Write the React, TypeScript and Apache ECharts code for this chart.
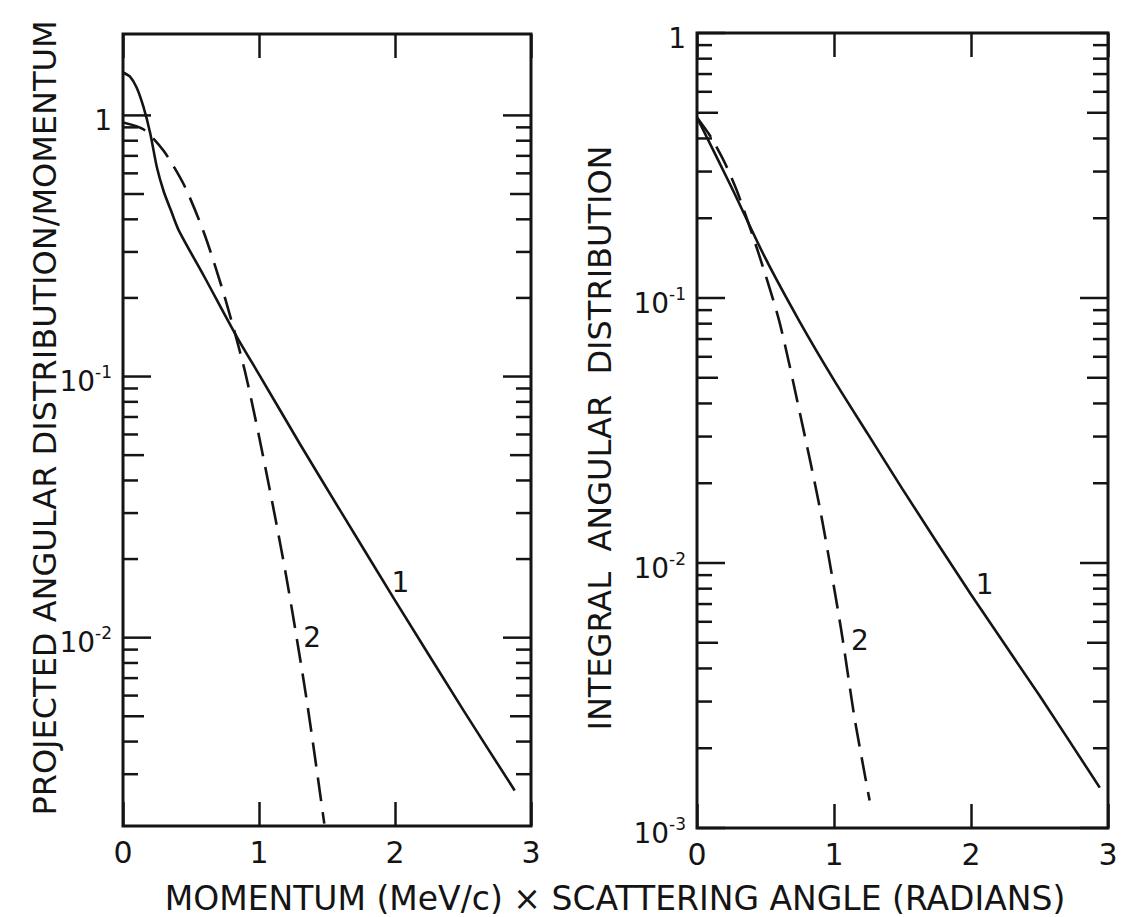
import React, { useEffect, useRef } from "react";
import * as echarts from "echarts";

// ---------- data ----------
const xTickValues = [0, 1, 2, 3];

// Left panel: projected angular distribution / momentum
const leftSolidX = [0, 0.05, 0.1, 0.15, 0.2, 0.25, 0.3, 0.35, 0.41, 0.6, 0.84, 1.0, 1.3, 1.6, 2.0, 2.5, 2.88];
const leftSolidY = [1.46, 1.41, 1.28, 1.08, 0.855, 0.63, 0.51, 0.436, 0.363, 0.24, 0.141, 0.102, 0.0553, 0.0305, 0.0139, 0.0053, 0.0026];
const leftDashX = [0, 0.15, 0.3, 0.45, 0.6, 0.75, 0.9, 1.05, 1.2, 1.35, 1.48];
const leftDashY = [0.94, 0.885, 0.73, 0.54, 0.35, 0.2, 0.103, 0.044, 0.0172, 0.0058, 0.00194];

// Right panel: integral angular distribution
const rightSolidX = [0, 0.25, 0.5, 0.75, 1.0, 1.25, 1.5, 2.0, 2.5, 2.94];
const rightSolidY = [0.48, 0.263, 0.141, 0.0813, 0.049, 0.0305, 0.019, 0.0076, 0.00316, 0.00142];
const rightDashX = [0, 0.1, 0.2, 0.3, 0.45, 0.6, 0.75, 0.9, 1.05, 1.15, 1.26];
const rightDashY = [0.48, 0.406, 0.326, 0.247, 0.147, 0.082, 0.037, 0.0158, 0.0057, 0.0026, 0.00127];

// axis ranges
const leftYRange = [0.0019, 2.05];
const rightYRange = [0.001, 1];

// log ticks
const leftDecades = [0.001, 0.01, 0.1, 1];
const rightDecades = [0.001, 0.01, 0.1, 1];
const minorMultipliers = [2, 3, 4, 5, 6, 7, 8, 9];
const leftMajorTicks = [1, 0.1, 0.01];
const rightMajorTicks = [1, 0.1, 0.01, 0.001];
const leftMajorLabels = ["1", "10|-1", "10|-2"];
const rightMajorLabels = ["1", "10|-1", "10|-2", "10|-3"];

// curve labels [x, y, text]
const leftCurveLabels: [number, number, string][] = [
  [2.04, 0.0163, "1"],
  [1.39, 0.0100, "2"],
];
const rightCurveLabels: [number, number, string][] = [
  [2.1, 0.0083, "1"],
  [1.19, 0.0051, "2"],
];

const xTitle = "MOMENTUM (MeV/c) × SCATTERING ANGLE (RADIANS)";
const leftYTitle = "PROJECTED ANGULAR DISTRIBUTION/MOMENTUM";
const rightYTitle = "INTEGRAL  ANGULAR  DISTRIBUTION";

// ---------- helpers ----------
const INK = "#141414";
const FONT = "DejaVu Sans";

function zip(xs: number[], ys: number[]) {
  return xs.map((x, i) => [x, ys[i]]);
}

function tickData(decades: number[], majors: number[], range: number[]) {
  const out: number[][] = [];
  decades.forEach((d) => {
    minorMultipliers.forEach((m) => {
      const v = m * d;
      if (v > range[0] * 1.1 && v < range[1] / 1.1) out.push([0, v, m === 5 ? 1 : 0]);
    });
  });
  majors.forEach((v) => out.push([0, v, 2]));
  return out;
}

function labelData(majors: number[], labels: string[]) {
  return majors.map((v, i) => [0, v, labels[i]]);
}

function tickSeries(gridIdx: number, data: number[][]) {
  return {
    type: "custom",
    xAxisIndex: gridIdx * 2,
    yAxisIndex: gridIdx,
    silent: true,
    z: 5,
    data,
    encode: { x: 0, y: 1 },
    renderItem: (params: any, api: any) => {
      const v = api.value(1);
      const kind = api.value(2);
      const pL = api.coord([0, v]);
      const pR = api.coord([3, v]);
      const len = kind === 2 ? 28 : kind === 1 ? 21 : 15;
      return {
        type: "group",
        children: [
          { type: "line", shape: { x1: pL[0], y1: pL[1], x2: pL[0] + len, y2: pL[1] }, style: { stroke: INK, lineWidth: 2.5 } },
          { type: "line", shape: { x1: pR[0] - len, y1: pR[1], x2: pR[0], y2: pR[1] }, style: { stroke: INK, lineWidth: 2.5 } },
        ],
      };
    },
  };
}

function yLabelSeries(gridIdx: number, data: any[]) {
  return {
    type: "custom",
    xAxisIndex: gridIdx * 2,
    yAxisIndex: gridIdx,
    silent: true,
    z: 5,
    data,
    encode: { x: 0, y: 1 },
    renderItem: (params: any, api: any) => {
      const v = api.value(1);
      const raw = String(data[params.dataIndex][2]);
      const p = api.coord([0, v]);
      const parts = raw.split("|");
      const text = parts.length > 1 ? `{n|${parts[0]}}{s|${parts[1]}}` : `{n|${parts[0]}}`;
      return {
        type: "text",
        x: p[0] - 11,
        y: p[1] + 3,
        style: {
          text,
          align: "right",
          verticalAlign: "middle",
          textAlign: "right",
          textVerticalAlign: "middle",
          fill: INK,
          rich: {
            n: { fontSize: 28, fontFamily: FONT, fill: INK, color: INK, lineHeight: 32, verticalAlign: "bottom" },
            s: { fontSize: 17, fontFamily: FONT, fill: INK, color: INK, lineHeight: 32, verticalAlign: "top" },
          },
        },
      };
    },
  };
}

function curveLabelSeries(gridIdx: number, data: [number, number, string][]) {
  return {
    type: "custom",
    xAxisIndex: gridIdx * 2,
    yAxisIndex: gridIdx,
    silent: true,
    z: 6,
    data: data.map((d) => [d[0], d[1]]),
    encode: { x: 0, y: 1 },
    renderItem: (params: any, api: any) => {
      const p = api.coord([api.value(0), api.value(1)]);
      return {
        type: "text",
        x: p[0],
        y: p[1],
        style: {
          text: data[params.dataIndex][2],
          align: "center",
          verticalAlign: "middle",
          textAlign: "center",
          textVerticalAlign: "middle",
          fontSize: 28,
          fontFamily: FONT,
          fill: INK,
        },
      };
    },
  };
}

function lineSeries(gridIdx: number, xs: number[], ys: number[], dashed: boolean) {
  return {
    type: "line",
    xAxisIndex: gridIdx * 2,
    yAxisIndex: gridIdx,
    data: zip(xs, ys),
    showSymbol: false,
    symbol: "none",
    smooth: 0.25,
    silent: true,
    z: 4,
    lineStyle: { color: INK, width: 2.6, type: dashed ? [24, 11] : "solid" },
  };
}

function xAxesFor(gridIdx: number) {
  const common = {
    type: "value",
    gridIndex: gridIdx,
    min: 0,
    max: 3,
    interval: 1,
    splitLine: { show: false },
    axisLine: { show: false },
    axisTick: { show: true, inside: true, length: 24, lineStyle: { color: INK, width: 2.5 } },
  };
  return [
    {
      ...common,
      position: "bottom",
      axisLabel: {
        show: true,
        margin: 11,
        fontSize: 30,
        fontFamily: FONT,
        color: INK,
        formatter: (v: number) => (xTickValues.includes(v) ? String(v) : ""),
      },
    },
    { ...common, position: "top", axisLabel: { show: false } },
  ];
}

function yAxisFor(gridIdx: number, range: number[]) {
  return {
    type: "log",
    logBase: 10,
    gridIndex: gridIdx,
    min: range[0],
    max: range[1],
    axisLabel: { show: false },
    axisTick: { show: false },
    axisLine: { show: false },
    splitLine: { show: false },
    minorTick: { show: false },
  };
}

export default function App() {
  const ref = useRef<HTMLDivElement>(null);

  useEffect(() => {
    if (!ref.current) return;
    const chart = echarts.init(ref.current, undefined, { renderer: "svg" });
    const option: any = {
      animation: false,
      backgroundColor: "#ffffff",
      textStyle: { fontFamily: FONT },
      grid: [
        { left: 123, top: 34, width: 408, height: 792, show: true, borderColor: INK, borderWidth: 3, backgroundColor: "transparent" },
        { left: 697, top: 33, width: 411, height: 795, show: true, borderColor: INK, borderWidth: 3, backgroundColor: "transparent" },
      ],
      xAxis: [...xAxesFor(0), ...xAxesFor(1)],
      yAxis: [yAxisFor(0, leftYRange), yAxisFor(1, rightYRange)],
      series: [
        tickSeries(0, tickData(leftDecades, leftMajorTicks, leftYRange)),
        tickSeries(1, tickData(rightDecades, rightMajorTicks, rightYRange)),
        yLabelSeries(0, labelData(leftMajorTicks, leftMajorLabels)),
        yLabelSeries(1, labelData(rightMajorTicks, rightMajorLabels)),
        lineSeries(0, leftSolidX, leftSolidY, false),
        lineSeries(0, leftDashX, leftDashY, true),
        lineSeries(1, rightSolidX, rightSolidY, false),
        lineSeries(1, rightDashX, rightDashY, true),
        curveLabelSeries(0, leftCurveLabels),
        curveLabelSeries(1, rightCurveLabels),
      ],
      graphic: [
        {
          type: "text",
          x: 615,
          y: 898,
          style: { text: xTitle, fontSize: 33, fontFamily: FONT, fill: INK, align: "center", verticalAlign: "middle", textAlign: "center", textVerticalAlign: "middle" },
        },
        {
          type: "text",
          x: 45,
          y: 418,
          rotation: Math.PI / 2,
          style: { text: leftYTitle, fontSize: 32, fontFamily: FONT, fill: INK, align: "center", verticalAlign: "middle", textAlign: "center", textVerticalAlign: "middle" },
        },
        {
          type: "text",
          x: 600,
          y: 438,
          rotation: Math.PI / 2,
          style: { text: rightYTitle, fontSize: 32, fontFamily: FONT, fill: INK, align: "center", verticalAlign: "middle", textAlign: "center", textVerticalAlign: "middle" },
        },
      ],
    };
    chart.setOption(option);
    return () => chart.dispose();
  }, []);

  return (
    <div
      ref={ref}
      style={{ position: "absolute", left: 0, top: 0, width: 1121, height: 917, background: "#fff" }}
    />
  );
}
